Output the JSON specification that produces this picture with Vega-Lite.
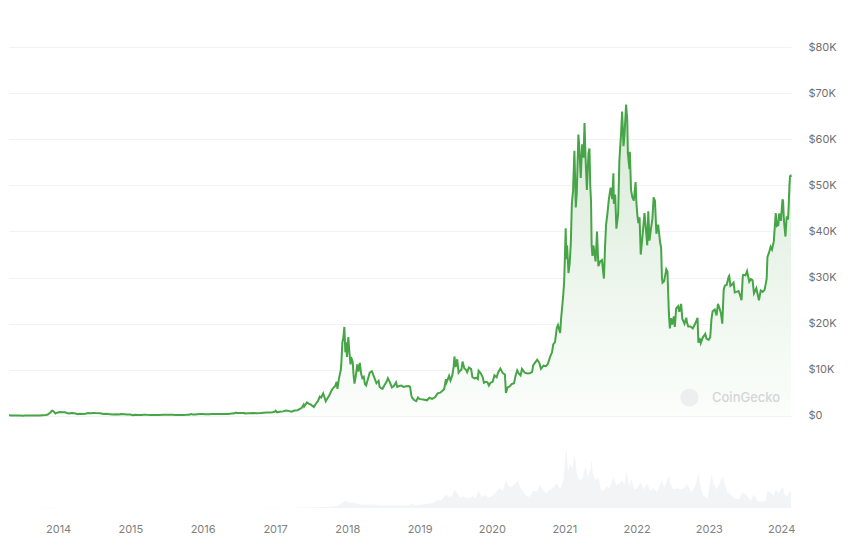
{
  "$schema": "https://vega.github.io/schema/vega-lite/v6.json",
  "width": 782,
  "height": 461,
  "autosize": {"type": "none"},
  "padding": {"left": 9, "top": 47, "right": 57, "bottom": 36},
  "background": "#ffffff",
  "view": {"stroke": null},
  "config": {"font": "Inter"},
  "datasets": {
    "price": [
      {"date":"2013-04-28","price":135},{"date":"2013-05-10","price":117},{"date":"2013-05-25","price":131},{"date":"2013-06-10","price":106},{"date":"2013-06-25","price":103},{"date":"2013-07-06","price":69},{"date":"2013-07-20","price":89},{"date":"2013-08-05","price":106},{"date":"2013-08-20","price":118},{"date":"2013-09-05","price":125},{"date":"2013-09-20","price":126},{"date":"2013-10-02","price":110},{"date":"2013-10-15","price":150},{"date":"2013-10-30","price":197},{"date":"2013-11-10","price":300},{"date":"2013-11-18","price":600},{"date":"2013-11-25","price":800},{"date":"2013-11-30","price":1130},{"date":"2013-12-04","price":1150},{"date":"2013-12-10","price":990},{"date":"2013-12-18","price":550},{"date":"2013-12-25","price":680},{"date":"2013-12-31","price":750},
      {"date":"2014-01-10","price":850},{"date":"2014-01-25","price":820},{"date":"2014-02-05","price":800},{"date":"2014-02-15","price":650},{"date":"2014-02-25","price":540},{"date":"2014-03-10","price":630},{"date":"2014-03-25","price":580},{"date":"2014-04-10","price":380},{"date":"2014-04-20","price":500},{"date":"2014-05-05","price":430},{"date":"2014-05-20","price":500},{"date":"2014-06-01","price":640},{"date":"2014-06-15","price":590},{"date":"2014-07-01","price":640},{"date":"2014-07-15","price":620},{"date":"2014-08-01","price":590},{"date":"2014-08-18","price":440},{"date":"2014-09-01","price":480},{"date":"2014-09-20","price":400},{"date":"2014-10-05","price":320},{"date":"2014-10-20","price":385},{"date":"2014-11-05","price":340},{"date":"2014-11-15","price":410},{"date":"2014-12-01","price":380},{"date":"2014-12-15","price":345},{"date":"2014-12-31","price":320},
      {"date":"2015-01-14","price":180},{"date":"2015-01-25","price":260},{"date":"2015-02-10","price":220},{"date":"2015-02-25","price":240},{"date":"2015-03-10","price":290},{"date":"2015-03-25","price":245},{"date":"2015-04-15","price":220},{"date":"2015-05-05","price":235},{"date":"2015-05-25","price":238},{"date":"2015-06-15","price":250},{"date":"2015-07-05","price":270},{"date":"2015-07-15","price":290},{"date":"2015-08-01","price":280},{"date":"2015-08-20","price":230},{"date":"2015-09-10","price":240},{"date":"2015-09-25","price":235},{"date":"2015-10-10","price":245},{"date":"2015-10-25","price":285},{"date":"2015-11-04","price":400},{"date":"2015-11-12","price":335},{"date":"2015-11-25","price":330},{"date":"2015-12-05","price":390},{"date":"2015-12-20","price":440},{"date":"2015-12-31","price":430},
      {"date":"2016-01-15","price":375},{"date":"2016-02-01","price":370},{"date":"2016-02-20","price":440},{"date":"2016-03-10","price":415},{"date":"2016-04-01","price":417},{"date":"2016-04-20","price":440},{"date":"2016-05-10","price":455},{"date":"2016-05-28","price":530},{"date":"2016-06-10","price":580},{"date":"2016-06-17","price":750},{"date":"2016-06-25","price":630},{"date":"2016-07-10","price":650},{"date":"2016-07-30","price":655},{"date":"2016-08-02","price":540},{"date":"2016-08-20","price":580},{"date":"2016-09-10","price":625},{"date":"2016-09-30","price":610},{"date":"2016-10-20","price":630},{"date":"2016-11-05","price":700},{"date":"2016-11-20","price":730},{"date":"2016-12-05","price":765},{"date":"2016-12-20","price":800},{"date":"2016-12-31","price":965},
      {"date":"2017-01-04","price":1130},{"date":"2017-01-11","price":790},{"date":"2017-01-25","price":900},{"date":"2017-02-10","price":1000},{"date":"2017-02-25","price":1180},{"date":"2017-03-10","price":1110},{"date":"2017-03-24","price":940},{"date":"2017-04-10","price":1200},{"date":"2017-04-25","price":1260},{"date":"2017-05-06","price":1550},{"date":"2017-05-15","price":1750},{"date":"2017-05-25","price":2450},{"date":"2017-05-28","price":2050},{"date":"2017-06-11","price":2950},{"date":"2017-06-20","price":2700},{"date":"2017-07-01","price":2450},{"date":"2017-07-16","price":1930},{"date":"2017-07-25","price":2600},{"date":"2017-08-05","price":3200},{"date":"2017-08-15","price":4200},{"date":"2017-08-22","price":4000},{"date":"2017-09-01","price":4900},{"date":"2017-09-14","price":3200},{"date":"2017-09-22","price":3800},{"date":"2017-10-01","price":4400},{"date":"2017-10-12","price":5400},{"date":"2017-10-20","price":6000},{"date":"2017-10-31","price":6450},{"date":"2017-11-08","price":7400},{"date":"2017-11-12","price":5900},{"date":"2017-11-20","price":8200},{"date":"2017-11-29","price":10000},{"date":"2017-12-01","price":10900},{"date":"2017-12-07","price":16000},{"date":"2017-12-12","price":17000},{"date":"2017-12-17","price":19300},{"date":"2017-12-22","price":13800},{"date":"2017-12-26","price":16000},{"date":"2017-12-30","price":12800},
      {"date":"2018-01-06","price":17100},{"date":"2018-01-10","price":14500},{"date":"2018-01-17","price":11200},{"date":"2018-01-20","price":12800},{"date":"2018-01-28","price":11700},{"date":"2018-02-01","price":9100},{"date":"2018-02-06","price":7000},{"date":"2018-02-12","price":8500},{"date":"2018-02-20","price":11200},{"date":"2018-02-26","price":9600},{"date":"2018-03-05","price":11500},{"date":"2018-03-12","price":9100},{"date":"2018-03-18","price":8200},{"date":"2018-03-25","price":8500},{"date":"2018-03-31","price":6900},{"date":"2018-04-06","price":6600},{"date":"2018-04-15","price":8000},{"date":"2018-04-24","price":9400},{"date":"2018-05-05","price":9700},{"date":"2018-05-14","price":8700},{"date":"2018-05-28","price":7100},{"date":"2018-06-08","price":7600},{"date":"2018-06-13","price":6300},{"date":"2018-06-22","price":6000},{"date":"2018-06-28","price":5900},{"date":"2018-07-08","price":6700},{"date":"2018-07-18","price":7400},{"date":"2018-07-25","price":8200},{"date":"2018-08-03","price":7400},{"date":"2018-08-14","price":6200},{"date":"2018-08-24","price":6500},{"date":"2018-09-04","price":7300},{"date":"2018-09-10","price":6300},{"date":"2018-09-20","price":6500},{"date":"2018-10-01","price":6600},{"date":"2018-10-11","price":6300},{"date":"2018-10-25","price":6450},{"date":"2018-11-07","price":6500},{"date":"2018-11-14","price":6300},{"date":"2018-11-20","price":4500},{"date":"2018-11-25","price":3900},{"date":"2018-12-06","price":3400},{"date":"2018-12-15","price":3200},{"date":"2018-12-24","price":4000},{"date":"2018-12-31","price":3700},
      {"date":"2019-01-10","price":3600},{"date":"2019-01-20","price":3550},{"date":"2019-02-07","price":3400},{"date":"2019-02-20","price":3950},{"date":"2019-03-05","price":3700},{"date":"2019-03-20","price":4050},{"date":"2019-04-02","price":4900},{"date":"2019-04-15","price":5050},{"date":"2019-04-25","price":5400},{"date":"2019-05-05","price":5800},{"date":"2019-05-14","price":8000},{"date":"2019-05-17","price":7300},{"date":"2019-05-30","price":8700},{"date":"2019-06-06","price":7700},{"date":"2019-06-15","price":8800},{"date":"2019-06-22","price":10700},{"date":"2019-06-26","price":12900},{"date":"2019-07-02","price":10600},{"date":"2019-07-10","price":12300},{"date":"2019-07-17","price":9400},{"date":"2019-07-24","price":9800},{"date":"2019-07-31","price":10000},{"date":"2019-08-06","price":11800},{"date":"2019-08-15","price":10300},{"date":"2019-08-22","price":10100},{"date":"2019-08-29","price":9500},{"date":"2019-09-07","price":10500},{"date":"2019-09-18","price":10200},{"date":"2019-09-25","price":8400},{"date":"2019-10-05","price":8150},{"date":"2019-10-15","price":8300},{"date":"2019-10-22","price":8000},{"date":"2019-10-26","price":9800},{"date":"2019-11-05","price":9300},{"date":"2019-11-15","price":8500},{"date":"2019-11-22","price":7200},{"date":"2019-12-01","price":7400},{"date":"2019-12-10","price":7300},{"date":"2019-12-17","price":6600},{"date":"2019-12-25","price":7200},
      {"date":"2020-01-05","price":7400},{"date":"2020-01-14","price":8800},{"date":"2020-01-25","price":8400},{"date":"2020-02-01","price":9400},{"date":"2020-02-13","price":10300},{"date":"2020-02-25","price":9300},{"date":"2020-03-07","price":9000},{"date":"2020-03-12","price":5000},{"date":"2020-03-20","price":6200},{"date":"2020-03-31","price":6400},{"date":"2020-04-10","price":6900},{"date":"2020-04-22","price":7100},{"date":"2020-04-30","price":8800},{"date":"2020-05-08","price":9900},{"date":"2020-05-15","price":9300},{"date":"2020-05-25","price":8800},{"date":"2020-06-01","price":10200},{"date":"2020-06-15","price":9400},{"date":"2020-06-30","price":9200},{"date":"2020-07-10","price":9250},{"date":"2020-07-22","price":9500},{"date":"2020-07-28","price":11000},{"date":"2020-08-10","price":11800},{"date":"2020-08-17","price":12200},{"date":"2020-08-28","price":11500},{"date":"2020-09-05","price":10200},{"date":"2020-09-18","price":10900},{"date":"2020-09-30","price":10800},{"date":"2020-10-10","price":11300},{"date":"2020-10-21","price":12800},{"date":"2020-10-31","price":13800},{"date":"2020-11-06","price":15500},{"date":"2020-11-15","price":16000},{"date":"2020-11-24","price":19100},{"date":"2020-11-30","price":19700},{"date":"2020-12-11","price":18000},{"date":"2020-12-16","price":21300},{"date":"2020-12-21","price":23500},{"date":"2020-12-27","price":26500},{"date":"2020-12-31","price":29000},
      {"date":"2021-01-03","price":33000},{"date":"2021-01-08","price":40700},{"date":"2021-01-11","price":34000},{"date":"2021-01-15","price":37000},{"date":"2021-01-22","price":31000},{"date":"2021-01-28","price":33000},{"date":"2021-02-03","price":37600},{"date":"2021-02-08","price":46000},{"date":"2021-02-14","price":48800},{"date":"2021-02-21","price":57500},{"date":"2021-02-28","price":45200},{"date":"2021-03-05","price":48500},{"date":"2021-03-13","price":61000},{"date":"2021-03-18","price":58000},{"date":"2021-03-25","price":51600},{"date":"2021-04-01","price":58900},{"date":"2021-04-08","price":56000},{"date":"2021-04-13","price":63500},{"date":"2021-04-18","price":56200},{"date":"2021-04-25","price":49000},{"date":"2021-05-03","price":57000},{"date":"2021-05-08","price":58000},{"date":"2021-05-12","price":50000},{"date":"2021-05-16","price":46500},{"date":"2021-05-19","price":37000},{"date":"2021-05-23","price":34700},{"date":"2021-05-28","price":37000},{"date":"2021-06-08","price":33500},{"date":"2021-06-15","price":40000},{"date":"2021-06-22","price":32500},{"date":"2021-07-01","price":33500},{"date":"2021-07-10","price":33800},{"date":"2021-07-20","price":29800},{"date":"2021-07-26","price":37000},{"date":"2021-07-31","price":41500},{"date":"2021-08-07","price":44000},{"date":"2021-08-14","price":47000},{"date":"2021-08-23","price":49500},{"date":"2021-08-31","price":47000},{"date":"2021-09-06","price":52600},{"date":"2021-09-08","price":46000},{"date":"2021-09-15","price":48000},{"date":"2021-09-21","price":40600},{"date":"2021-09-30","price":43800},{"date":"2021-10-06","price":55400},{"date":"2021-10-15","price":61500},{"date":"2021-10-20","price":66000},{"date":"2021-10-27","price":58500},{"date":"2021-11-01","price":61000},{"date":"2021-11-09","price":67500},{"date":"2021-11-15","price":64000},{"date":"2021-11-18","price":56900},{"date":"2021-11-26","price":53500},{"date":"2021-11-28","price":57300},{"date":"2021-12-04","price":49000},{"date":"2021-12-10","price":47500},{"date":"2021-12-18","price":46700},{"date":"2021-12-27","price":50700},{"date":"2021-12-31","price":46300},
      {"date":"2022-01-05","price":43500},{"date":"2022-01-10","price":41800},{"date":"2022-01-16","price":43100},{"date":"2022-01-22","price":35000},{"date":"2022-01-28","price":37700},{"date":"2022-02-05","price":41500},{"date":"2022-02-10","price":44000},{"date":"2022-02-17","price":40500},{"date":"2022-02-24","price":37000},{"date":"2022-03-01","price":44400},{"date":"2022-03-07","price":38000},{"date":"2022-03-16","price":41000},{"date":"2022-03-22","price":42800},{"date":"2022-03-28","price":47400},{"date":"2022-04-04","price":46600},{"date":"2022-04-11","price":39500},{"date":"2022-04-20","price":41500},{"date":"2022-04-30","price":37600},{"date":"2022-05-05","price":36500},{"date":"2022-05-09","price":30100},{"date":"2022-05-12","price":28900},{"date":"2022-05-20","price":29200},{"date":"2022-05-31","price":31800},{"date":"2022-06-06","price":31300},{"date":"2022-06-13","price":22400},{"date":"2022-06-18","price":19000},{"date":"2022-06-24","price":21200},{"date":"2022-06-30","price":19800},{"date":"2022-07-08","price":21600},{"date":"2022-07-13","price":19300},{"date":"2022-07-20","price":23300},{"date":"2022-07-30","price":23800},{"date":"2022-08-05","price":22600},{"date":"2022-08-14","price":24300},{"date":"2022-08-20","price":21100},{"date":"2022-08-31","price":20000},{"date":"2022-09-09","price":21300},{"date":"2022-09-13","price":20200},{"date":"2022-09-19","price":19400},{"date":"2022-09-30","price":19400},{"date":"2022-10-12","price":19000},{"date":"2022-10-25","price":20100},{"date":"2022-11-05","price":21300},{"date":"2022-11-09","price":15900},{"date":"2022-11-15","price":16900},{"date":"2022-11-21","price":15800},{"date":"2022-12-01","price":17000},{"date":"2022-12-14","price":17800},{"date":"2022-12-20","price":16800},{"date":"2022-12-31","price":16500},
      {"date":"2023-01-08","price":17100},{"date":"2023-01-14","price":20900},{"date":"2023-01-20","price":22700},{"date":"2023-01-31","price":23100},{"date":"2023-02-09","price":21800},{"date":"2023-02-16","price":24300},{"date":"2023-02-25","price":23200},{"date":"2023-03-03","price":22300},{"date":"2023-03-10","price":20000},{"date":"2023-03-17","price":27400},{"date":"2023-03-23","price":28300},{"date":"2023-04-01","price":28400},{"date":"2023-04-11","price":30200},{"date":"2023-04-14","price":30400},{"date":"2023-04-20","price":28200},{"date":"2023-04-26","price":28400},{"date":"2023-05-06","price":28900},{"date":"2023-05-12","price":26800},{"date":"2023-05-20","price":26900},{"date":"2023-05-31","price":27100},{"date":"2023-06-07","price":26300},{"date":"2023-06-15","price":25100},{"date":"2023-06-21","price":30000},{"date":"2023-06-23","price":30600},{"date":"2023-07-05","price":30500},{"date":"2023-07-13","price":31400},{"date":"2023-07-24","price":29100},{"date":"2023-08-01","price":29700},{"date":"2023-08-10","price":29400},{"date":"2023-08-17","price":26600},{"date":"2023-08-29","price":27700},{"date":"2023-09-11","price":25100},{"date":"2023-09-20","price":27200},{"date":"2023-09-30","price":26900},{"date":"2023-10-10","price":27400},{"date":"2023-10-20","price":29700},{"date":"2023-10-24","price":34500},{"date":"2023-11-01","price":35400},{"date":"2023-11-09","price":36700},{"date":"2023-11-16","price":36100},{"date":"2023-11-25","price":37800},{"date":"2023-12-05","price":44000},{"date":"2023-12-11","price":41200},{"date":"2023-12-18","price":41400},{"date":"2023-12-22","price":43900},{"date":"2023-12-31","price":42300},
      {"date":"2024-01-08","price":47000},{"date":"2024-01-11","price":46600},{"date":"2024-01-15","price":42500},{"date":"2024-01-23","price":38900},{"date":"2024-01-29","price":43300},{"date":"2024-02-05","price":42600},{"date":"2024-02-08","price":45300},{"date":"2024-02-12","price":49900},{"date":"2024-02-15","price":52000},{"date":"2024-02-18","price":52100},{"date":"2024-02-20","price":51800}
    ],
    "vol": [
      {"date":"2013-04-28","vol":0.08},{"date":"2013-08-01","vol":0.05},{"date":"2013-11-20","vol":0.3},{"date":"2013-12-10","vol":0.25},{"date":"2014-02-01","vol":0.12},{"date":"2014-06-01","vol":0.05},{"date":"2014-12-01","vol":0.05},{"date":"2015-06-01","vol":0.05},{"date":"2015-11-05","vol":0.12},{"date":"2016-03-01","vol":0.07},{"date":"2016-06-17","vol":0.2},{"date":"2016-10-01","vol":0.08},
      {"date":"2017-01-05","vol":0.3},{"date":"2017-03-01","vol":0.2},{"date":"2017-05-25","vol":1.0},{"date":"2017-06-15","vol":1.2},{"date":"2017-08-01","vol":1.2},{"date":"2017-09-01","vol":2.2},{"date":"2017-10-15","vol":2.0},{"date":"2017-11-15","vol":3.5},{"date":"2017-12-08","vol":9},{"date":"2017-12-20","vol":12},
      {"date":"2018-01-05","vol":10},{"date":"2018-01-20","vol":8},{"date":"2018-02-06","vol":9},{"date":"2018-03-01","vol":6},{"date":"2018-04-01","vol":5},{"date":"2018-05-01","vol":6},{"date":"2018-06-15","vol":4},{"date":"2018-08-01","vol":4.5},{"date":"2018-09-15","vol":4.5},{"date":"2018-11-01","vol":4},{"date":"2018-11-20","vol":6.5},{"date":"2018-12-15","vol":5},
      {"date":"2019-01-15","vol":5.5},{"date":"2019-02-15","vol":7},{"date":"2019-03-15","vol":9},{"date":"2019-04-03","vol":14},{"date":"2019-04-20","vol":12},{"date":"2019-05-14","vol":22},{"date":"2019-05-28","vol":18},{"date":"2019-06-15","vol":20},{"date":"2019-06-27","vol":30},{"date":"2019-07-10","vol":24},{"date":"2019-07-25","vol":17},{"date":"2019-08-10","vol":19},{"date":"2019-09-01","vol":15},{"date":"2019-09-25","vol":19},{"date":"2019-10-10","vol":16},{"date":"2019-10-26","vol":28},{"date":"2019-11-10","vol":18},{"date":"2019-11-25","vol":21},{"date":"2019-12-15","vol":17},
      {"date":"2020-01-05","vol":20},{"date":"2020-01-20","vol":26},{"date":"2020-02-10","vol":32},{"date":"2020-02-25","vol":28},{"date":"2020-03-12","vol":45},{"date":"2020-03-20","vol":38},{"date":"2020-04-05","vol":34},{"date":"2020-04-30","vol":40},{"date":"2020-05-10","vol":44},{"date":"2020-05-25","vol":32},{"date":"2020-06-10","vol":25},{"date":"2020-06-25","vol":20},{"date":"2020-07-10","vol":18},{"date":"2020-07-28","vol":28},{"date":"2020-08-15","vol":27},{"date":"2020-09-01","vol":38},{"date":"2020-09-15","vol":30},{"date":"2020-10-01","vol":24},{"date":"2020-10-21","vol":30},{"date":"2020-11-05","vol":33},{"date":"2020-11-25","vol":40},{"date":"2020-12-10","vol":30},{"date":"2020-12-28","vol":45},
      {"date":"2021-01-04","vol":80},{"date":"2021-01-11","vol":98},{"date":"2021-01-20","vol":60},{"date":"2021-01-29","vol":72},{"date":"2021-02-08","vol":64},{"date":"2021-02-23","vol":85},{"date":"2021-03-05","vol":55},{"date":"2021-03-20","vol":45},{"date":"2021-04-05","vol":50},{"date":"2021-04-18","vol":68},{"date":"2021-05-01","vol":50},{"date":"2021-05-12","vol":62},{"date":"2021-05-19","vol":78},{"date":"2021-05-25","vol":55},{"date":"2021-06-08","vol":45},{"date":"2021-06-22","vol":50},{"date":"2021-07-05","vol":30},{"date":"2021-07-20","vol":28},{"date":"2021-08-01","vol":35},{"date":"2021-08-15","vol":32},{"date":"2021-09-07","vol":50},{"date":"2021-09-20","vol":38},{"date":"2021-10-05","vol":40},{"date":"2021-10-20","vol":45},{"date":"2021-11-01","vol":38},{"date":"2021-11-10","vol":61},{"date":"2021-11-25","vol":35},{"date":"2021-12-04","vol":48},{"date":"2021-12-20","vol":30},
      {"date":"2022-01-05","vol":32},{"date":"2022-01-22","vol":42},{"date":"2022-02-05","vol":30},{"date":"2022-02-24","vol":40},{"date":"2022-03-10","vol":28},{"date":"2022-03-28","vol":32},{"date":"2022-04-15","vol":26},{"date":"2022-05-09","vol":45},{"date":"2022-05-20","vol":32},{"date":"2022-06-13","vol":52},{"date":"2022-06-20","vol":40},{"date":"2022-07-05","vol":30},{"date":"2022-07-25","vol":32},{"date":"2022-08-15","vol":30},{"date":"2022-09-01","vol":33},{"date":"2022-09-15","vol":38},{"date":"2022-10-05","vol":25},{"date":"2022-10-25","vol":36},{"date":"2022-11-09","vol":56},{"date":"2022-11-20","vol":35},{"date":"2022-12-05","vol":20},{"date":"2022-12-25","vol":15},
      {"date":"2023-01-14","vol":55},{"date":"2023-01-25","vol":40},{"date":"2023-02-10","vol":30},{"date":"2023-03-13","vol":52},{"date":"2023-03-20","vol":42},{"date":"2023-04-05","vol":25},{"date":"2023-04-20","vol":22},{"date":"2023-05-10","vol":16},{"date":"2023-06-01","vol":14},{"date":"2023-06-22","vol":26},{"date":"2023-07-13","vol":20},{"date":"2023-08-01","vol":12},{"date":"2023-08-17","vol":22},{"date":"2023-09-05","vol":11},{"date":"2023-09-25","vol":10},{"date":"2023-10-15","vol":12},{"date":"2023-10-24","vol":28},{"date":"2023-11-10","vol":25},{"date":"2023-11-25","vol":20},{"date":"2023-12-05","vol":30},{"date":"2023-12-20","vol":24},
      {"date":"2024-01-03","vol":32},{"date":"2024-01-11","vol":33},{"date":"2024-01-20","vol":22},{"date":"2024-02-01","vol":18},{"date":"2024-02-12","vol":26},{"date":"2024-02-20","vol":28}
    ],
    "mark": [{"label": "CoinGecko", "date": "2023-07-08", "price": 4000, "logoDate": "2022-09-25"}]
  },
  "encoding": {
    "x": {
      "field": "date",
      "type": "temporal",
      "title": null,
      "scale": {"domain": [{"year": 2013, "month": 4, "date": 28}, {"year": 2024, "month": 2, "date": 20}]},
      "axis": {
        "format": "%Y",
        "tickCount": {"interval": "year", "step": 1},
        "grid": false,
        "domain": false,
        "ticks": false,
        "labelFlush": false,
        "labelColor": "#808080",
        "labelFontSize": 11,
        "labelPadding": 15
      }
    }
  },
  "layer": [
    {
      "data": {"name": "vol"},
      "mark": {"type": "area", "color": "#eef0f3", "opacity": 0.75},
      "encoding": {
        "y": {"field": "vol", "type": "quantitative", "scale": {"domain": [0, 750]}, "axis": null}
      }
    },
    {
      "encoding": {
        "y": {
          "field": "price",
          "type": "quantitative",
          "title": null,
          "scale": {"domain": [-19950, 80000], "nice": false, "zero": false},
          "axis": {
            "orient": "right",
            "values": [0, 10000, 20000, 30000, 40000, 50000, 60000, 70000, 80000],
            "labelExpr": "datum.value == 0 ? '$0' : '$' + (datum.value / 1000) + 'K'",
            "grid": true,
            "gridColor": "#f2f2f2",
            "domain": false,
            "ticks": false,
            "labelColor": "#707070",
            "labelFontSize": 11,
            "labelPadding": 17,
            "labelAlign": "left"
          }
        }
      },
      "layer": [
        {
          "data": {"name": "price"},
          "mark": {
            "type": "area",
            "color": {
              "gradient": "linear",
              "x1": 0, "y1": 0, "x2": 0, "y2": 1,
              "stops": [
                {"offset": 0, "color": "#d8e9d8"},
                {"offset": 0.55, "color": "#ecf5ec"},
                {"offset": 1, "color": "#fbfefb"}
              ]
            }
          },
          "encoding": {"y2": {"datum": 0}}
        },
        {
          "data": {"name": "price"},
          "mark": {"type": "line", "color": "#46a546", "strokeWidth": 2}
        },
        {
          "data": {"name": "mark"},
          "mark": {"type": "point", "filled": true, "shape": "circle", "size": 330, "color": "#eceef0", "opacity": 1},
          "encoding": {"x": {"field": "logoDate", "type": "temporal"}}
        },
        {
          "data": {"name": "mark"},
          "mark": {"type": "text", "color": "#d2d5d8", "fontSize": 13, "fontWeight": 500, "align": "center", "baseline": "middle"},
          "encoding": {"text": {"field": "label"}}
        }
      ]
    }
  ],
  "resolve": {"scale": {"y": "independent"}}
}
